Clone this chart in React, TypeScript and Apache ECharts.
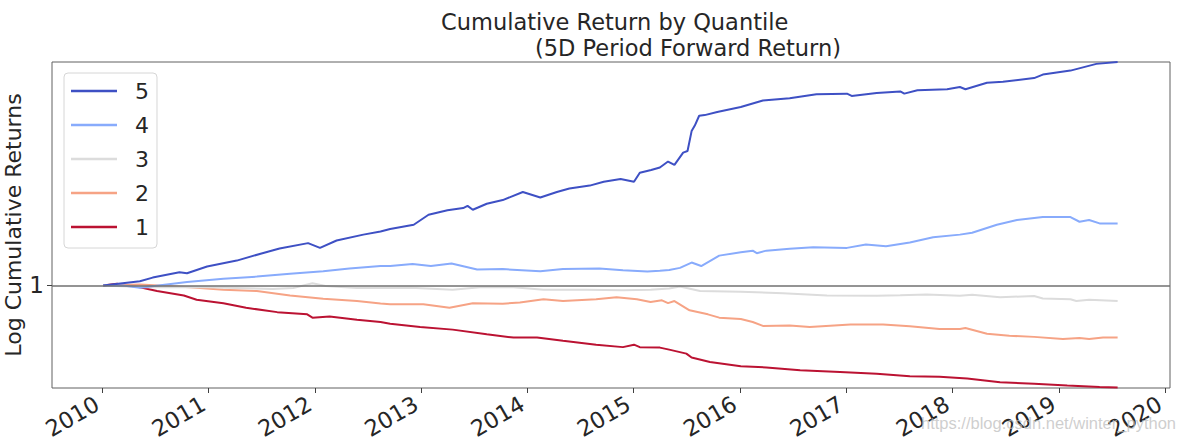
import React, { useEffect, useRef } from "react";
import * as echarts from "echarts";

// ---- Data ----
const q5Dates = ["2010-01-04","2010-05-10","2010-06-23","2010-09-23","2010-10-19","2010-12-27","2011-04-08","2011-07-05","2011-09-02","2011-12-09","2012-01-19","2012-03-16","2012-06-16","2012-08-14","2012-09-16","2012-12-06","2013-01-26","2013-04-01","2013-05-25","2013-06-09","2013-06-27","2013-08-14","2013-10-08","2013-12-16","2014-02-14","2014-04-12","2014-05-25","2014-08-03","2014-09-20","2014-11-17","2015-01-02","2015-01-22","2015-03-02","2015-04-01","2015-04-29","2015-05-21","2015-06-20","2015-07-05","2015-07-19","2015-07-30","2015-08-14","2015-09-02","2015-10-15","2016-01-04","2016-03-20","2016-06-20","2016-09-20","2017-01-03","2017-01-19","2017-04-15","2017-07-05","2017-07-19","2017-09-02","2017-12-13","2018-01-26","2018-02-14","2018-04-29","2018-06-23","2018-10-08","2018-11-07","2019-02-10","2019-05-10","2019-07-22"];
const q5Values = [1.0,1.025,1.047,1.08,1.074,1.117,1.156,1.207,1.24,1.28,1.245,1.30,1.345,1.37,1.39,1.425,1.51,1.55,1.57,1.59,1.555,1.61,1.645,1.725,1.67,1.725,1.76,1.79,1.83,1.86,1.83,1.93,1.96,1.99,2.06,2.02,2.17,2.19,2.46,2.54,2.69,2.70,2.75,2.83,2.94,2.98,3.05,3.06,3.02,3.07,3.10,3.06,3.12,3.14,3.18,3.14,3.26,3.28,3.35,3.42,3.50,3.64,3.68];

const q4Dates = ["2010-01-04","2010-03-13","2010-05-10","2010-08-10","2010-10-19","2011-02-21","2011-06-16","2011-10-08","2012-01-30","2012-04-29","2012-08-14","2012-09-16","2012-12-02","2013-02-03","2013-04-15","2013-07-12","2013-10-08","2014-02-14","2014-05-03","2014-09-05","2014-11-25","2015-02-17","2015-04-01","2015-05-03","2015-06-09","2015-07-19","2015-08-21","2015-10-22","2016-01-04","2016-02-14","2016-02-28","2016-04-01","2016-06-20","2016-09-09","2017-01-03","2017-03-09","2017-05-17","2017-08-07","2017-10-26","2018-01-26","2018-03-09","2018-06-02","2018-08-10","2018-11-07","2019-02-10","2019-03-13","2019-04-15","2019-05-21","2019-07-22"];
const q4Values = [1.0,1.0,0.987,1.006,1.02,1.04,1.053,1.07,1.086,1.104,1.12,1.12,1.134,1.12,1.137,1.097,1.10,1.086,1.10,1.104,1.093,1.085,1.09,1.095,1.108,1.143,1.12,1.19,1.214,1.225,1.207,1.225,1.238,1.25,1.245,1.27,1.257,1.285,1.325,1.345,1.36,1.425,1.465,1.49,1.49,1.45,1.465,1.436,1.436];

const q3Dates = ["2010-01-04","2010-06-05","2010-12-27","2011-08-10","2011-10-19","2011-12-24","2012-02-07","2012-05-25","2012-11-25","2013-04-19","2013-07-22","2013-11-14","2014-02-25","2014-07-22","2014-11-25","2015-02-28","2015-05-03","2015-06-09","2015-08-17","2016-01-04","2016-05-28","2016-10-26","2017-04-15","2017-07-05","2017-10-04","2018-01-26","2018-03-09","2018-06-13","2018-10-08","2018-11-07","2019-02-10","2019-03-02","2019-04-15","2019-07-22"];
const q3Values = [1.0,0.99,0.99,0.98,0.985,1.013,0.997,0.985,0.987,0.975,0.99,0.99,0.975,0.975,0.972,0.975,0.983,0.994,0.968,0.964,0.956,0.943,0.942,0.945,0.949,0.942,0.947,0.934,0.94,0.927,0.923,0.913,0.92,0.913];

const q2Dates = ["2010-01-04","2010-05-10","2010-10-29","2011-02-21","2011-06-16","2011-10-08","2012-01-30","2012-05-25","2012-08-14","2012-09-16","2013-01-08","2013-04-08","2013-06-27","2013-10-08","2013-12-06","2014-02-25","2014-05-03","2014-08-25","2014-11-03","2015-01-12","2015-02-28","2015-04-08","2015-04-29","2015-05-21","2015-07-12","2015-09-13","2015-10-22","2016-01-04","2016-02-14","2016-03-20","2016-06-20","2016-08-28","2017-01-15","2017-05-07","2017-08-07","2017-11-17","2018-01-26","2018-02-14","2018-04-29","2018-07-15","2018-10-08","2019-01-15","2019-03-13","2019-04-15","2019-06-02","2019-07-22"];
const q2Values = [1.0,1.005,0.99,0.975,0.968,0.943,0.925,0.913,0.900,0.896,0.896,0.878,0.902,0.899,0.906,0.923,0.913,0.923,0.934,0.923,0.908,0.917,0.902,0.913,0.865,0.845,0.829,0.822,0.808,0.79,0.792,0.785,0.796,0.797,0.788,0.776,0.776,0.78,0.755,0.746,0.741,0.732,0.736,0.732,0.738,0.738];

const q1Dates = ["2010-01-04","2010-02-20","2010-05-10","2010-07-08","2010-10-08","2010-11-21","2011-02-21","2011-05-10","2011-08-25","2011-12-06","2011-12-24","2012-02-21","2012-05-25","2012-08-14","2012-09-16","2012-12-28","2013-04-19","2013-08-14","2013-11-14","2014-02-03","2014-05-03","2014-08-25","2014-11-25","2015-01-02","2015-01-22","2015-04-01","2015-05-03","2015-07-01","2015-07-19","2015-09-20","2016-01-04","2016-04-01","2016-07-26","2016-12-10","2017-04-15","2017-08-07","2017-11-17","2018-02-20","2018-06-13","2018-10-08","2019-01-30","2019-05-21","2019-07-22"];
const q1Values = [1.0,1.01,0.99,0.968,0.943,0.92,0.902,0.878,0.856,0.845,0.829,0.835,0.819,0.808,0.80,0.785,0.773,0.752,0.738,0.738,0.724,0.708,0.698,0.708,0.698,0.696,0.688,0.672,0.657,0.64,0.624,0.62,0.61,0.604,0.598,0.589,0.587,0.581,0.569,0.564,0.558,0.553,0.552];

const tickYears = [2010, 2011, 2012, 2013, 2014, 2015, 2016, 2017, 2018, 2019, 2020];
const legendOrder = ["5", "4", "3", "2", "1"];
const titleLine1 = "Cumulative Return by Quantile";
const titleLine2 = "(5D Period Forward Return)";
const yAxisName = "Log Cumulative Returns";
const watermark = "https://blog.csdn.net/winter_python";

const FONT = "DejaVu Sans";
const TEXT = "#262626";

function pairs(dates: string[], values: number[]) {
  return dates.map((d, i) => [d, values[i]]);
}

export default function App() {
  const ref = useRef<HTMLDivElement>(null);

  useEffect(() => {
    if (!ref.current) return;
    const chart = echarts.init(ref.current, null, { renderer: "svg" });

    const mk = (name: string, dates: string[], values: number[], color: string, extra: any = {}) => ({
      name,
      type: "line",
      data: pairs(dates, values),
      showSymbol: false,
      symbol: "none",
      silent: true,
      lineStyle: { color, width: 2 },
      itemStyle: { color },
      ...extra,
    });

    const yearTicks = tickYears.map((y) => new Date(y, 0, 1).getTime());

    const option: any = {
      animation: false,
      backgroundColor: "#ffffff",
      title: [
        { text: titleLine1, left: 436, top: 5, textStyle: { fontFamily: FONT, fontSize: 22.5, fontWeight: "normal", color: TEXT } },
        { text: titleLine2, left: 530, top: 31, textStyle: { fontFamily: FONT, fontSize: 22.5, fontWeight: "normal", color: TEXT } },
      ],
      legend: {
        data: legendOrder,
        orient: "vertical",
        left: 64,
        top: 73,
        icon: "rect",
        itemWidth: 46,
        itemHeight: 2.5,
        itemGap: 12,
        padding: [7, 8, 10, 7],
        borderColor: "#d6d6d6",
        borderWidth: 1,
        borderRadius: 4,
        backgroundColor: "#ffffff",
        selectedMode: false,
        textStyle: { fontFamily: FONT, fontSize: 22, color: TEXT, padding: [0, 0, 0, 13] },
      },
      grid: {
        left: 52,
        top: 62,
        right: 8,
        bottom: 55,
        outerBoundsMode: "none",
        containLabel: false,
        show: true,
        borderColor: "#606060",
        borderWidth: 1,
        backgroundColor: "transparent",
      },
      xAxis: {
        type: "time",
        min: new Date(2009, 6, 12).getTime(),
        max: new Date(2020, 0, 18).getTime(),
        splitNumber: 10,
        axisLine: { show: false },
        axisTick: {
          show: true,
          length: 5,
          lineStyle: { color: "#404040" },
          customValues: yearTicks,
        },
        splitLine: { show: false },
        axisLabel: {
          rotate: 30,
          margin: 11,
          interval: 0,
          fontFamily: FONT,
          fontSize: 22.5,
          color: TEXT,
          hideOverlap: false,
          padding: [0, 6, 0, 0],
          formatter: (v: number) => {
            const d = new Date(v);
            return d.getMonth() === 0 && d.getDate() === 1 && tickYears.indexOf(d.getFullYear()) >= 0
              ? String(d.getFullYear())
              : "";
          },
        },
      },
      yAxis: {
        type: "log",
        logBase: 10,
        min: 0.55,
        max: 3.68,
        name: yAxisName,
        nameLocation: "middle",
        nameGap: 28,
        nameMoveOverlap: false,
        nameTextStyle: { fontFamily: FONT, fontSize: 22, color: TEXT },
        axisLine: { show: false },
        axisTick: { show: true, length: 5, lineStyle: { color: "#404040" }, customValues: [1] },
        splitLine: { show: false },
        axisLabel: {
          margin: 8,
          fontFamily: FONT,
          fontSize: 23,
          color: TEXT,
          formatter: (v: number) => (Math.abs(v - 1) < 1e-9 ? "1" : ""),
        },
      },
      series: [
        mk("1", q1Dates, q1Values, "#bb1232"),
        mk("2", q2Dates, q2Values, "#f6a385"),
        mk("3", q3Dates, q3Values, "#dcdcdc"),
        mk("4", q4Dates, q4Values, "#88abfc"),
        mk("5", q5Dates, q5Values, "#3e50c4", {
          markLine: {
            silent: true,
            symbol: "none",
            label: { show: false },
            lineStyle: { color: "#707070", width: 1.5, type: "solid" },
            data: [{ yAxis: 1 }],
          },
        }),
      ],
      graphic: [
        {
          type: "text",
          right: 2,
          top: 414,
          z: 100,
          silent: true,
          style: {
            text: watermark,
            fontFamily: "Liberation Sans",
            fontSize: 16.5,
            fill: "rgba(190,190,190,0.75)",
          },
        },
      ],
    };

    chart.setOption(option);
    return () => chart.dispose();
  }, []);

  return (
    <div
      ref={ref}
      style={{ position: "fixed", left: 0, top: 0, width: 1178, height: 443, background: "#fff" }}
    />
  );
}
